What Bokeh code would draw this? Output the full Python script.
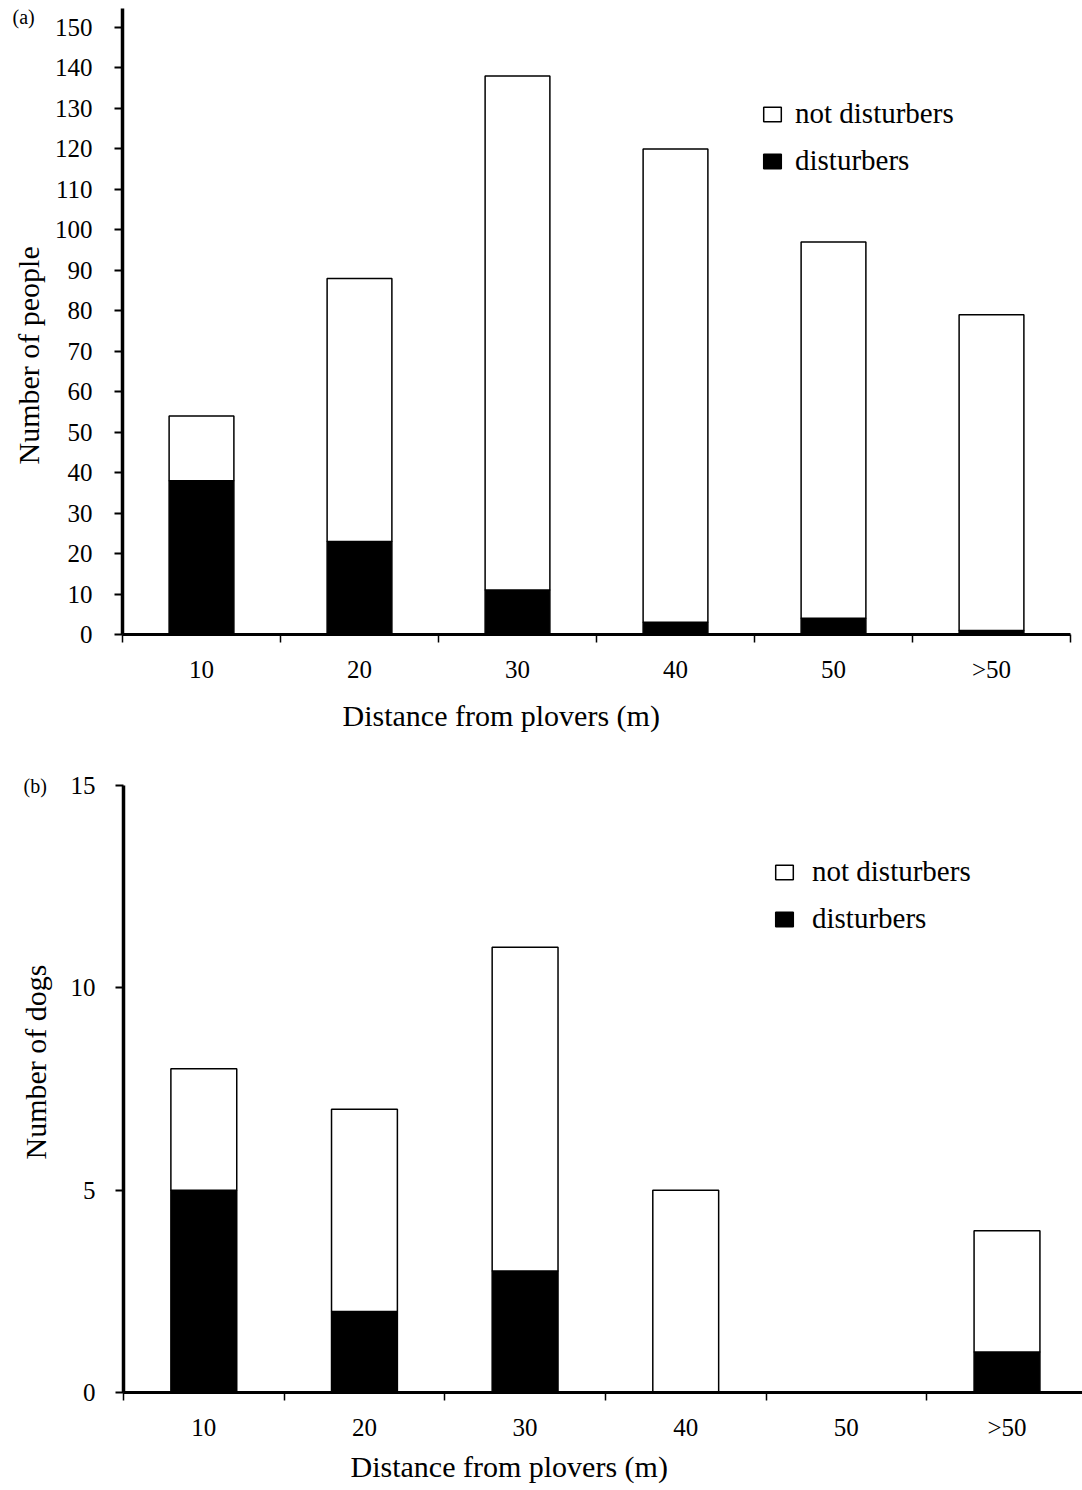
from bokeh.plotting import figure
from bokeh.models import (Range1d, FixedTicker, SingleIntervalTicker, LinearAxis,
                          Legend, LegendItem, Title, ColumnDataSource)
from bokeh.embed import file_html
from bokeh.resources import INLINE

# ---------------- data ----------------
categories = ["10", "20", "30", "40", "50", ">50"]
people_disturbers = [38, 23, 11, 3, 4, 1]
people_not_disturbers = [16, 65, 127, 117, 93, 78]
dogs_disturbers = [5, 2, 3, 0, 0, 1]
dogs_not_disturbers = [3, 5, 8, 5, 0, 3]

FONT = "Liberation Serif"


def make_panel(tag, ylabel, dist, notd, y_end, y_interval, x_end,
               width, height, border_left, border_right, border_top, border_bottom,
               tag_offset, tag_standoff, ylabel_offset, ylabel_standoff,
               xlabel_offset, xlabel_standoff, legend_loc, legend_standoff, ytick_standoff):
    xs = list(range(len(categories)))
    src = ColumnDataSource(dict(x=xs, dist=dist, notd=notd))

    p = figure(width=width, height=height, output_backend="svg", toolbar_location=None,
               x_range=Range1d(-0.5, x_end), y_range=Range1d(0, y_end),
               min_border_left=border_left, min_border_right=border_right,
               min_border_top=border_top, min_border_bottom=border_bottom,
               x_axis_type=None, y_axis_type=None)
    p.outline_line_color = None
    p.xgrid.visible = False
    p.ygrid.visible = False

    r_dist, r_not = p.vbar_stack(["dist", "notd"], x="x", width=0.41, source=src,
                                 fill_color=["black", "white"], line_color="black",
                                 line_width=1.5)

    # x axis: labels at bar centres, tick marks at category boundaries
    xaxis = LinearAxis(ticker=FixedTicker(ticks=xs,
                                          minor_ticks=[i - 0.5 for i in range(len(categories) + 1)]))
    xaxis.major_label_overrides = {i: c for i, c in zip(xs, categories)}
    xaxis.major_tick_in = 0
    xaxis.major_tick_out = 0
    xaxis.minor_tick_in = 0
    xaxis.minor_tick_out = 8
    xaxis.minor_tick_line_width = 1.5
    xaxis.axis_line_width = 3
    xaxis.major_label_standoff = 13
    xaxis.major_label_text_font = FONT
    xaxis.major_label_text_font_size = "25px"
    xaxis.major_label_text_color = "black"
    p.add_layout(xaxis, "below")

    yaxis = LinearAxis(ticker=SingleIntervalTicker(interval=y_interval, num_minor_ticks=0))
    yaxis.major_tick_in = 0
    yaxis.major_tick_out = 8
    yaxis.major_tick_line_width = 2
    yaxis.minor_tick_out = 0
    yaxis.minor_tick_in = 0
    yaxis.axis_line_width = 3.5
    yaxis.major_label_standoff = ytick_standoff
    yaxis.major_label_text_font = FONT
    yaxis.major_label_text_font_size = "25px"
    yaxis.major_label_text_color = "black"
    p.add_layout(yaxis, "left")

    # axis titles
    p.add_layout(Title(text="Distance from plovers (m)", align="left", offset=xlabel_offset,
                       standoff=xlabel_standoff, text_font=FONT, text_font_size="30px",
                       text_font_style="normal", text_color="black"), "below")
    p.add_layout(Title(text=ylabel, align="left", offset=ylabel_offset,
                       standoff=ylabel_standoff, text_font=FONT, text_font_size="30px",
                       text_font_style="normal", text_color="black"), "left")

    # panel tag, top-left corner
    p.add_layout(Title(text=tag, align="left", offset=tag_offset, standoff=tag_standoff,
                       text_font=FONT, text_font_size="20px", text_font_style="normal",
                       text_color="black"), "above")

    legend = Legend(items=[LegendItem(label="not disturbers", renderers=[r_not]),
                           LegendItem(label="disturbers", renderers=[r_dist])],
                    location=legend_loc, orientation="vertical",
                    glyph_width=22, glyph_height=18, label_standoff=legend_standoff,
                    label_text_font=FONT, label_text_font_size="29px",
                    label_text_color="black",
                    label_height=30, spacing=14, padding=0, margin=0,
                    border_line_alpha=0, background_fill_alpha=0)
    p.add_layout(legend, "center")
    return p


pa = make_panel("(a)", "Number of people", people_disturbers, people_not_disturbers,
                y_end=154.7, y_interval=10, x_end=5.5,
                width=1082, height=760, border_left=122, border_right=12,
                border_top=8, border_bottom=126,
                tag_offset=-110, tag_standoff=-39,
                ylabel_offset=170, ylabel_standoff=14,
                xlabel_offset=220, xlabel_standoff=22,
                legend_loc=(639, 457), legend_standoff=12, ytick_standoff=22)

pb = make_panel("(b)", "Number of dogs", dogs_disturbers, dogs_not_disturbers,
                y_end=15, y_interval=5, x_end=5.47,
                width=1082, height=730, border_left=123, border_right=0,
                border_top=25, border_bottom=98,
                tag_offset=-100, tag_standoff=-22,
                ylabel_offset=233, ylabel_standoff=32,
                xlabel_offset=227, xlabel_standoff=9,
                legend_loc=(650, 457), legend_standoff=17, ytick_standoff=20)

# two independent roots, stacked on the page, so each keeps its own frame borders
open("out.html", "w").write(file_html([pa, pb], INLINE))
